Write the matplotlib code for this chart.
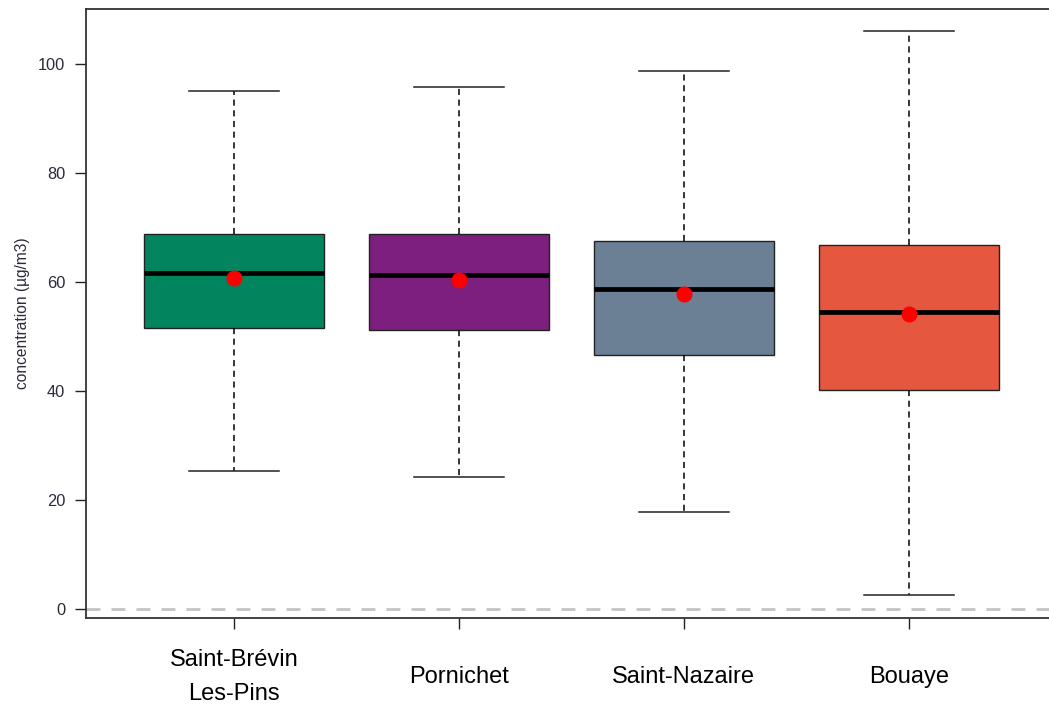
import matplotlib
matplotlib.use('Agg')
import matplotlib.pyplot as plt

# data
sites = ['Saint-Brévin\nLes-Pins', 'Pornichet', 'Saint-Nazaire', 'Bouaye']
q1 = [51.6, 51.2, 46.6, 40.2]
med = [61.7, 61.2, 58.7, 54.5]
q3 = [68.8, 68.8, 67.5, 66.8]
whis_lo = [25.3, 24.2, 17.8, 2.6]
whis_hi = [95.0, 95.8, 98.8, 106.1]
means = [60.7, 60.4, 57.8, 54.1]
colors = ['#02855f', '#7c1f7f', '#6b7f95', '#e5573f']

plt.rcParams['font.family'] = ['Liberation Sans', 'DejaVu Sans']

fig = plt.figure(figsize=(10.49, 7.09), dpi=100)
ax = fig.add_axes([86 / 1049, 91 / 709, 971 / 1049, 609 / 709])

stats = []
for i in range(len(sites)):
    stats.append({'med': med[i], 'q1': q1[i], 'q3': q3[i],
                  'whislo': whis_lo[i], 'whishi': whis_hi[i],
                  'mean': means[i], 'fliers': [], 'label': sites[i]})

pos = list(range(1, len(sites) + 1))
bp = ax.bxp(stats, positions=pos, widths=0.8, patch_artist=True,
            showmeans=True, showfliers=False,
            boxprops=dict(edgecolor='#222222', linewidth=1.0),
            medianprops=dict(color='black', linewidth=3.4),
            whiskerprops=dict(color='black', linewidth=1.1, linestyle=(0, (4, 3))),
            capprops=dict(color='#222222', linewidth=1.1),
            meanprops=dict(marker='o', markerfacecolor='red', markeredgecolor='red',
                           markersize=10.5),
            capwidths=0.4)
for patch, c in zip(bp['boxes'], colors):
    patch.set_facecolor(c)

# zero reference line
ax.axhline(0, color='#c4c4c4', linewidth=2, linestyle=(0, (5, 4)), zorder=0)

ax.set_xlim(0.34, 4.66)
ax.set_ylim(-1.65, 110.09)
ax.set_yticks([0, 20, 40, 60, 80, 100])
ax.tick_params(axis='y', direction='out', length=8, width=1.0, pad=7,
               labelsize=11.8, labelcolor='#2b2b3b', color='#222222')
ax.tick_params(axis='x', direction='out', length=8, width=1.0, pad=34.5,
               labelsize=17, color='#222222')
ax.set_xticks(pos)
ax.set_xticklabels(sites)
for lab in ax.get_xticklabels():
    lab.set_verticalalignment('center')
    lab.set_linespacing(1.7)

ax.set_ylabel('concentration (µg/m3)', fontsize=11.2, color='#2b2b3b', labelpad=6)

for s in ['left', 'top', 'bottom', 'right']:
    ax.spines[s].set_color('#333333')
    ax.spines[s].set_linewidth(1.3)

fig.savefig('out.png', dpi=100)
